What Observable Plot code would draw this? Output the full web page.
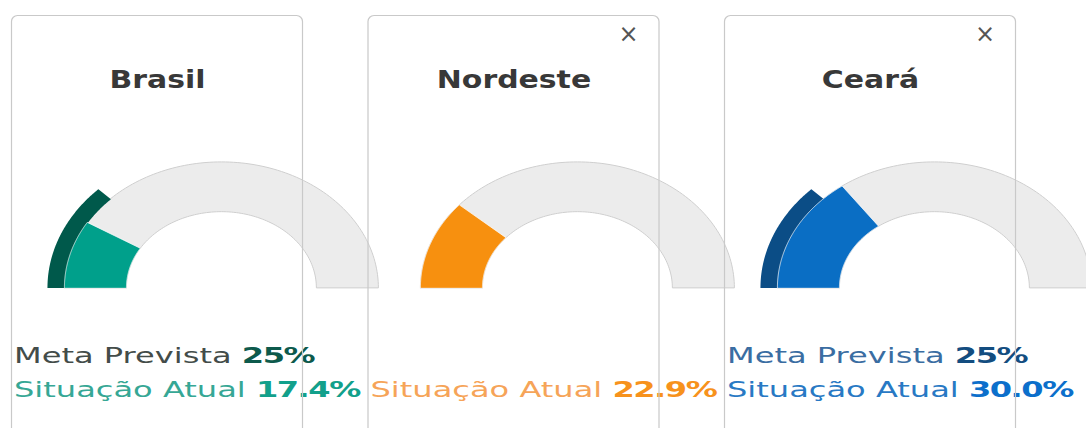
<!DOCTYPE html>
<html><head><meta charset="utf-8">
<script src="https://cdn.jsdelivr.net/npm/d3@7"></script>
<script src="https://cdn.jsdelivr.net/npm/@observablehq/plot@0.6"></script>
<style>
html,body{margin:0;padding:0;background:#fff;overflow:hidden}
#root{position:relative;width:1086px;height:428px;overflow:hidden;font-family:"DejaVu Sans",sans-serif}
#root svg{position:absolute}
</style></head><body><div id="root"></div>
<script>
// ---- data ----
const regions = ["Brasil", "Nordeste", "Ceará"];
const metaPrevista = [25, null, 25];       // %
const situacaoAtual = [17.4, 22.9, 30.0];  // %
const gaugeMax = 100;
const metaLabel = "Meta Prevista";
const atualLabel = "Situação Atual";

// ---- styles ----
const palette = [
  {value:"#00a08b", meta:"#00594b", metaText:"#434c49", metaNum:"#0d5a4c", atualText:"#36a795", atualNum:"#12a08b"},
  {value:"#f7900f", meta:"#b86a0a", metaText:"#6b5a48", metaNum:"#b86a0a", atualText:"#f6a458", atualNum:"#f7921c"},
  {value:"#0a6ec4", meta:"#0b4d86", metaText:"#3a6da2", metaNum:"#134d80", atualText:"#2879c4", atualNum:"#0c6fcb"}
];
const trackFill = "#ececec", trackStroke = "#cfcfcf";
const rIn = 0.605, rOut = 1.0, rMetaIn = 0.995, rMetaOut = 1.108;
const pxX = 157, pxY = 126;           // px per radius unit (the gauge is elliptical)
const xDom = [-1.2, 1.2], yDom = [-0.05, 1.15];
const cardLeft0 = 11, cardStep = 356.5, cardW = 291, cardTop = 15;
const gaugeCxOff = 210, gaugeCy = 288;

const root = document.getElementById("root");

function sector(v0, v1, n = 120) {
  const a0 = Math.PI * (1 - v0 / gaugeMax), a1 = Math.PI * (1 - v1 / gaugeMax);
  return d3.range(n + 1).map(i => a0 + (a1 - a0) * i / n);
}
function band(angles, ri, ro, opts) {
  return Plot.area(angles, {
    x1: a => ri * Math.cos(a), y1: a => ri * Math.sin(a),
    x2: a => ro * Math.cos(a), y2: a => ro * Math.sin(a),
    curve: "linear", ...opts
  });
}

regions.forEach((name, i) => {
  const col = palette[i];
  const marks = [band(sector(0, gaugeMax), rIn, rOut, {fill: trackFill, stroke: trackStroke, strokeWidth: 1})];
  if (metaPrevista[i] != null) marks.push(band(sector(0, metaPrevista[i]), rMetaIn, rMetaOut, {fill: col.meta}));
  marks.push(band(sector(0, situacaoAtual[i]), rIn, rOut, {fill: col.value, stroke: "#fff", strokeWidth: 0.7}));
  const w = (xDom[1] - xDom[0]) * pxX, h = (yDom[1] - yDom[0]) * pxY;
  const svg = Plot.plot({
    width: w, height: h, margin: 0,
    x: {domain: xDom, axis: null}, y: {domain: yDom, axis: null},
    style: {background: "none", overflow: "visible"},
    marks
  });
  const cx = cardLeft0 + cardStep * i + gaugeCxOff;
  svg.style.left = (cx + xDom[0] * pxX) + "px";
  svg.style.top = (gaugeCy - yDom[1] * pxY) + "px";
  root.appendChild(svg);
});

// ---- overlay: texts and cards ----
const ov = d3.select(root).append("svg").attr("width", 1086).attr("height", 428).style("left", 0).style("top", 0);
const titles = [], lines = [];
regions.forEach((name, i) => {
  const col = palette[i];
  const left = cardLeft0 + cardStep * i;
  const t = ov.append("text").attr("text-anchor", "middle").attr("font-size", 24.5).attr("font-weight", 700)
    .attr("fill", "#383838").attr("data-x", left + cardW / 2 + 1).attr("data-y", 88).text(name);
  titles.push(t);
  if (i > 0) {
    ov.append("text").attr("x", left + cardW - 30).attr("y", 34).attr("text-anchor", "middle")
      .attr("dominant-baseline", "central").attr("font-size", 24).attr("fill", "#555").text("×");
  }
  if (metaPrevista[i] != null) {
    const m = ov.append("text").attr("font-size", 21.5).attr("data-x", left + 3).attr("data-y", 363);
    m.append("tspan").attr("fill", col.metaText).text(metaLabel + " ");
    m.append("tspan").attr("fill", col.metaNum).attr("font-weight", 700).attr("letter-spacing", -1).text(metaPrevista[i] + "%");
    lines.push(m);
  }
  const s = ov.append("text").attr("font-size", 21.5).attr("data-x", left + 3).attr("data-y", 397);
  s.append("tspan").attr("fill", col.atualText).text(atualLabel + " ");
  s.append("tspan").attr("fill", col.atualNum).attr("font-weight", 700).attr("letter-spacing", -1).text(situacaoAtual[i].toFixed(1) + "%");
  lines.push(s);
});
// horizontal stretch of the reference
const kT = 96 / titles[0].node().getComputedTextLength();
const kL = 346 / lines[1].node().getComputedTextLength();
titles.forEach(t => t.attr("transform", `translate(${t.attr("data-x")},${t.attr("data-y")}) scale(${kT},1)`));
lines.forEach(t => t.attr("transform", `translate(${t.attr("data-x")},${t.attr("data-y")}) scale(${kL},1)`));

regions.forEach((name, i) => {
  ov.append("rect").attr("x", cardLeft0 + cardStep * i + 0.5).attr("y", cardTop + 0.5)
    .attr("width", cardW).attr("height", 500).attr("rx", 6)
    .attr("fill", "none").attr("stroke", "#c9c9c9").attr("stroke-width", 1.2);
});
</script></body></html>
